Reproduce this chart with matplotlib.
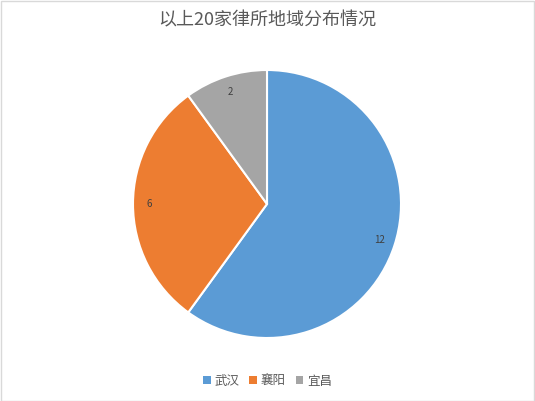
import matplotlib.pyplot as plt
from matplotlib.patches import Patch

plt.rcParams['font.family'] = ['Noto Sans CJK SC', 'DejaVu Sans']

cities = ['武汉', '襄阳', '宜昌']
counts = [12, 6, 2]
colors = ['#5B9BD5', '#ED7D31', '#A5A5A5']

fig = plt.figure(figsize=(5.35, 4.01), dpi=100)
fig.patch.set_facecolor('white')

# pie axes: centre ~ (267, 204) px, radius ~134 px
ax = fig.add_axes([133 / 535, (401 - 338) / 401, 268 / 535, 268 / 401])
wedges, texts, autotexts = ax.pie(counts, colors=colors, startangle=90, counterclock=False,
                                  autopct=lambda p: '%d' % round(p * sum(counts) / 100),
                                  pctdistance=0.88, radius=1.0,
                                  wedgeprops=dict(edgecolor='white', linewidth=1.5))
for t in autotexts:
    t.set_fontsize(7)
    t.set_color('#404040')
ax.set_xlim(-1.0, 1.0)
ax.set_ylim(-1.0, 1.0)
ax.set_aspect('equal')

fig.text(0.5, 1 - 20 / 401, '以上20家律所地域分布情况', ha='center', va='center',
         fontsize=13, color='#595959')

handles = [Patch(facecolor=c, edgecolor='none') for c in colors]
fig.legend(handles, cities, loc='center', bbox_to_anchor=(0.5, 1 - 381 / 401), ncol=3,
           frameon=False, fontsize=9, handlelength=0.6, handleheight=0.6,
           handletextpad=0.3, columnspacing=0.8, labelcolor='#595959')

# thin border around chart area
border = plt.Rectangle((0.5 / 535, 0.5 / 401), 1 - 1.5 / 535, 1 - 1.5 / 401, transform=fig.transFigure,
                       fill=False, edgecolor='#D9D9D9', linewidth=1)
fig.patches.append(border)

fig.savefig('out.png', dpi=100)
